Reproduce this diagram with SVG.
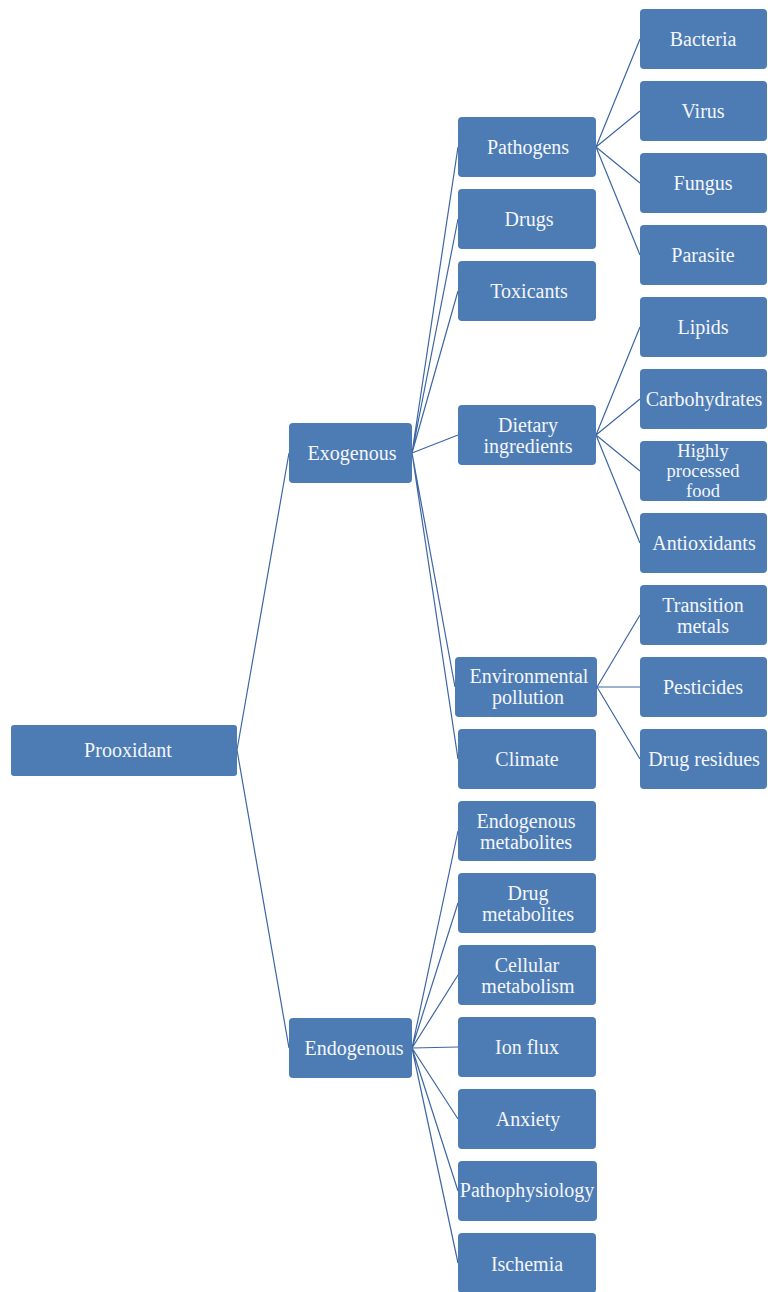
<svg xmlns="http://www.w3.org/2000/svg" width="768" height="1292" viewBox="0 0 768 1292">
<style>
.n{fill:#4d7cb5;}
.t{font-family:"Liberation Serif","DejaVu Serif",serif;font-size:20px;fill:#f4f6fa;text-anchor:middle;dominant-baseline:central;}
.s{font-size:18.5px;}
.c{stroke:#3d66a3;stroke-width:1.2;fill:none;}
</style>
<rect width="768" height="1292" fill="#ffffff"/>
<g id="connectors">
<path class="c" d="M237,750L289,453M237,750L289,1048"/>
<path class="c" d="M412,453L458,147M412,453L458,219M412,453L458,291M412,453L458,435M412,453L455,687M412,453L458,759"/>
<path class="c" d="M412,1048L458,831M412,1048L458,903M412,1048L458,975M412,1048L458,1047M412,1048L458,1119M412,1048L458,1191M412,1048L458,1263"/>
<path class="c" d="M596,147L640,39M596,147L640,111M596,147L640,183M596,147L640,255"/>
<path class="c" d="M596,435L640,327M596,435L640,399M596,435L640,471M596,435L640,543"/>
<path class="c" d="M597,687L640,615M597,687L640,687M597,687L640,759"/>
</g>
<g id="prooxidant"><rect class="n" x="11" y="725" width="226" height="51" rx="3"/><text class="t" x="128" y="750">Prooxidant</text></g>
<g id="exogenous"><rect class="n" x="289" y="423" width="123" height="60" rx="4"/><text class="t" x="352" y="453">Exogenous</text></g>
<g id="endogenous"><rect class="n" x="289" y="1018" width="123" height="60" rx="4"/><text class="t" x="354" y="1048">Endogenous</text></g>
<g id="pathogens"><rect class="n" x="458" y="117" width="138" height="60" rx="4"/><text class="t" x="528" y="147">Pathogens</text></g>
<g id="drugs"><rect class="n" x="458" y="189" width="138" height="60" rx="4"/><text class="t" x="529" y="219">Drugs</text></g>
<g id="toxicants"><rect class="n" x="458" y="261" width="138" height="60" rx="4"/><text class="t" x="529" y="291">Toxicants</text></g>
<g id="dietary"><rect class="n" x="458" y="405" width="138" height="60" rx="4"/><text class="t" x="528" y="425">Dietary</text><text class="t" x="528" y="446">ingredients</text></g>
<g id="environmental"><rect class="n" x="455" y="657" width="142" height="60" rx="4"/><text class="t" x="529" y="676">Environmental</text><text class="t" x="528" y="697">pollution</text></g>
<g id="climate"><rect class="n" x="458" y="729" width="138" height="60" rx="4"/><text class="t" x="527" y="759">Climate</text></g>
<g id="endo-metabolites"><rect class="n" x="458" y="801" width="138" height="60" rx="4"/><text class="t" x="526" y="821">Endogenous</text><text class="t" x="526" y="842">metabolites</text></g>
<g id="drug-metabolites"><rect class="n" x="458" y="873" width="138" height="60" rx="4"/><text class="t" x="528" y="893">Drug</text><text class="t" x="528" y="914">metabolites</text></g>
<g id="cellular"><rect class="n" x="458" y="945" width="138" height="60" rx="4"/><text class="t" x="527" y="965">Cellular</text><text class="t" x="528" y="986">metabolism</text></g>
<g id="ionflux"><rect class="n" x="458" y="1017" width="138" height="60" rx="4"/><text class="t" x="527" y="1047">Ion flux</text></g>
<g id="anxiety"><rect class="n" x="458" y="1089" width="138" height="60" rx="4"/><text class="t" x="528" y="1119">Anxiety</text></g>
<g id="pathophysiology"><rect class="n" x="458" y="1161" width="139" height="60" rx="4"/><text class="t" x="527" y="1190">Pathophysiology</text></g>
<g id="ischemia"><rect class="n" x="458" y="1233" width="138" height="60" rx="4"/><text class="t" x="527" y="1264">Ischemia</text></g>
<g id="bacteria"><rect class="n" x="640" y="9" width="127" height="60" rx="4"/><text class="t" x="703" y="39">Bacteria</text></g>
<g id="virus"><rect class="n" x="640" y="81" width="127" height="60" rx="4"/><text class="t" x="703" y="111">Virus</text></g>
<g id="fungus"><rect class="n" x="640" y="153" width="127" height="60" rx="4"/><text class="t" x="703" y="183">Fungus</text></g>
<g id="parasite"><rect class="n" x="640" y="225" width="127" height="60" rx="4"/><text class="t" x="703" y="255">Parasite</text></g>
<g id="lipids"><rect class="n" x="640" y="297" width="127" height="60" rx="4"/><text class="t" x="703" y="327">Lipids</text></g>
<g id="carbohydrates"><rect class="n" x="640" y="369" width="127" height="60" rx="4"/><text class="t" x="704" y="399">Carbohydrates</text></g>
<g id="processed"><rect class="n" x="640" y="441" width="127" height="60" rx="4"/><text class="t s" x="703" y="451">Highly</text><text class="t s" x="703" y="471">processed</text><text class="t s" x="703" y="491">food</text></g>
<g id="antioxidants"><rect class="n" x="640" y="513" width="127" height="60" rx="4"/><text class="t" x="704" y="543">Antioxidants</text></g>
<g id="transition"><rect class="n" x="640" y="585" width="127" height="60" rx="4"/><text class="t" x="703" y="605">Transition</text><text class="t" x="703" y="626">metals</text></g>
<g id="pesticides"><rect class="n" x="640" y="657" width="127" height="60" rx="4"/><text class="t" x="703" y="687">Pesticides</text></g>
<g id="drugresidues"><rect class="n" x="640" y="729" width="127" height="60" rx="4"/><text class="t" x="704" y="759">Drug residues</text></g>
</svg>
